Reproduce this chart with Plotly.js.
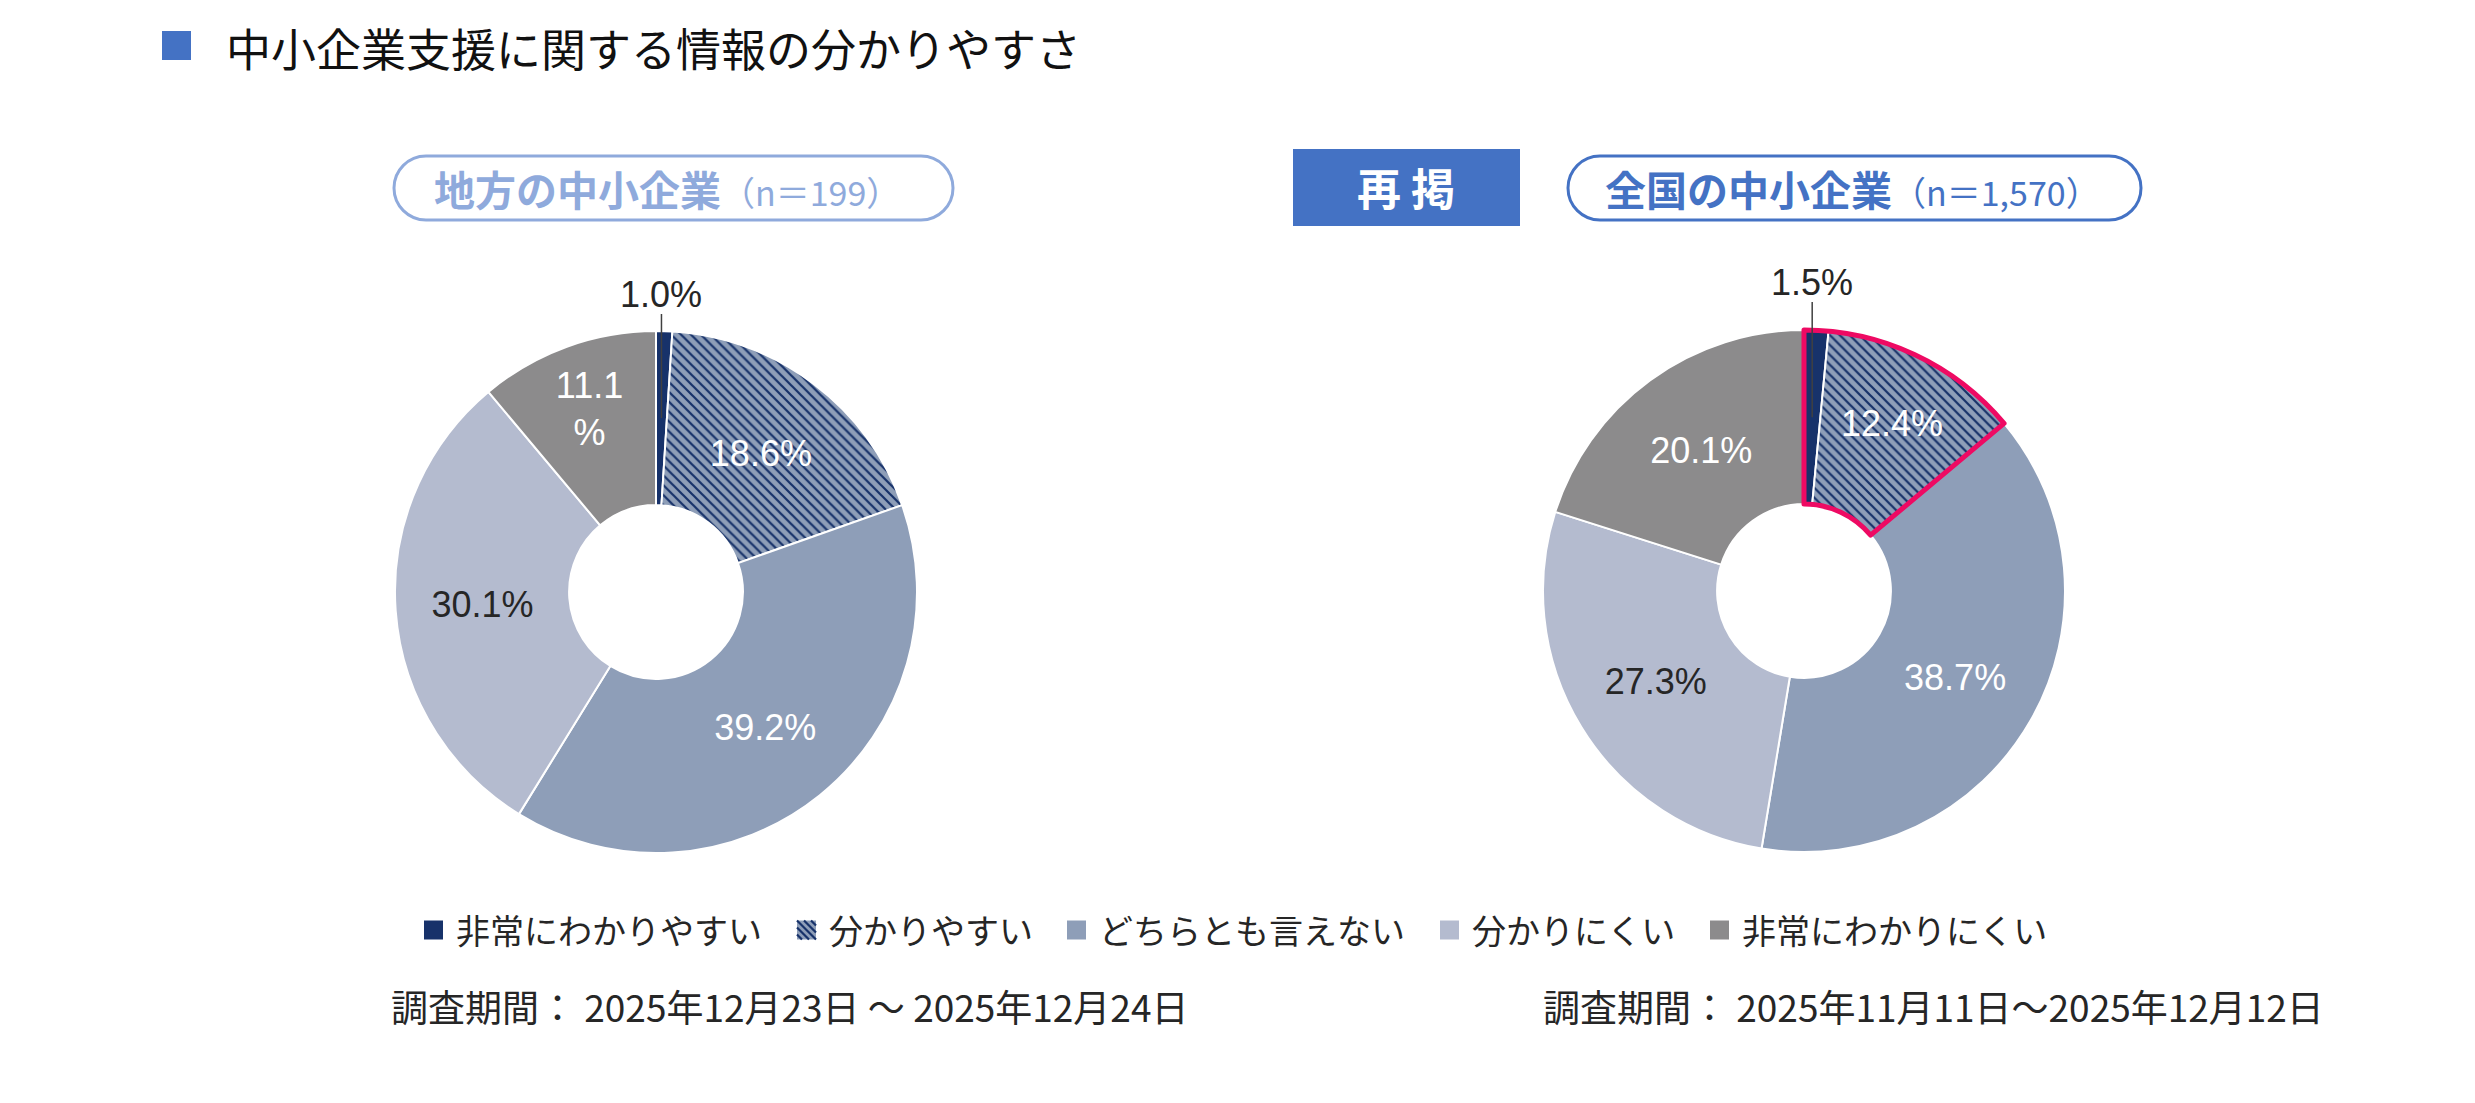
<!DOCTYPE html>
<html><head><meta charset="utf-8">
<script src="https://cdn.plot.ly/plotly-3.0.1.min.js"></script>
<style>html,body{margin:0;padding:0;background:#fff}#chart{width:2475px;height:1103px}</style>
</head><body><div id="chart"></div>
<script>
// ---- data ----
const categories = ["非常にわかりやすい", "分かりやすい", "どちらとも言えない", "分かりにくい", "非常にわかりにくい"];
const localValues = [1.0, 18.6, 39.2, 30.1, 11.1];
const nationalValues = [1.5, 12.4, 38.7, 27.3, 20.1];
const localLabels = ["1.0%", "18.6%", "39.2%", "30.1%", "11.1<br>%"];
const nationalLabels = ["1.5%", "12.4%", "38.7%", "27.3%", "20.1%"];
const highlightCount = 2;
const chartTitle = "中小企業支援に関する情報の分かりやすさ";
const localHeader = "地方の中小企業";
const localN = "（n＝199）";
const nationalHeader = "全国の中小企業";
const nationalN = "（n＝1,570）";
const repostLabel = "再 掲";
const localPeriod = "調査期間： 2025年12月23日 ～ 2025年12月24日";
const nationalPeriod = "調査期間： 2025年11月11日～2025年12月12日";

// ---- style ----
const W = 2475, H = 1103;
const px = x => x / W;
const py = y => 1 - y / H;
const NAVY = "#17326A";
const sliceColors = [NAVY, "#8E9EB8", "#8E9EB8", "#B4BBCF", "#8C8B8C"];
const patternShapes = ["", "\\", "", "", ""];
const textColors = ["#262626", "#ffffff", "#ffffff", "#262626", "#ffffff"];
const R = 261, HOLE = 0.333;
const leftC = [656, 592], rightC = [1804, 591];
const CJK = "Noto Sans CJK JP, Noto Sans, sans-serif";
const LAT = "Liberation Sans, Arial, sans-serif";
const legendX = [424, 797, 1067, 1440, 1710];
const legendY = 930, legendSq = 19;

function domainFor(c) {
  return { x: [px(c[0] - R), px(c[0] + R)], y: [py(c[1] + R), py(c[1] - R)] };
}
function pieTrace(values, labels, c) {
  return {
    type: "pie", labels: categories, values: values, text: labels,
    textinfo: "text", texttemplate: "%{text}",
    textposition: values.map((v, i) => i === 0 ? "none" : "inside"),
    insidetextorientation: "horizontal",
    insidetextfont: { family: LAT, size: 36, color: textColors },
    sort: false, direction: "clockwise", rotation: 0, hole: HOLE,
    domain: domainFor(c),
    marker: {
      colors: sliceColors,
      line: { color: "#ffffff", width: 2 },
      pattern: { shape: patternShapes, fgcolor: NAVY, bgcolor: "#8E9EB8", size: 7, solidity: 0.32, fillmode: "replace" }
    },
    showlegend: false, hoverinfo: "skip"
  };
}
const sum = a => a.reduce((s, v) => s + v, 0);
const hlVal = sum(nationalValues.slice(0, highlightCount));
const highlight = {
  type: "pie", labels: ["hl", "rest"], values: [hlVal, sum(nationalValues) - hlVal],
  textinfo: "none", sort: false, direction: "clockwise", rotation: 0, hole: HOLE,
  domain: domainFor(rightC),
  marker: { colors: ["rgba(0,0,0,0)", "rgba(0,0,0,0)"], line: { color: ["#EE0A63", "rgba(0,0,0,0)"], width: [5, 0] } },
  showlegend: false, hoverinfo: "skip"
};

function roundedRect(x0, y0, x1, y1, r) {
  const k = 0.5523 * r;
  const P = (x, y) => px(x) + "," + py(y);
  return "M" + P(x0 + r, y0) + " L" + P(x1 - r, y0) +
    " C" + P(x1 - r + k, y0) + " " + P(x1, y0 + r - k) + " " + P(x1, y0 + r) +
    " L" + P(x1, y1 - r) +
    " C" + P(x1, y1 - r + k) + " " + P(x1 - r + k, y1) + " " + P(x1 - r, y1) +
    " L" + P(x0 + r, y1) +
    " C" + P(x0 + r - k, y1) + " " + P(x0, y1 - r + k) + " " + P(x0, y1 - r) +
    " L" + P(x0, y0 + r) +
    " C" + P(x0, y0 + r - k) + " " + P(x0 + r - k, y0) + " " + P(x0 + r, y0) + " Z";
}

// small-slice outside label with leader line, derived from data
function smallLabel(values, labels, c, labelOffset) {
  const a = 2 * Math.PI * (values[0] / 2) / sum(values);
  const rmid = R * (1 + HOLE) / 2;
  const xm = c[0] + Math.sin(a) * rmid, ym = c[1] - Math.cos(a) * rmid;
  const ly = c[1] - R - labelOffset;
  return {
    shape: { type: "line", xref: "paper", yref: "paper", x0: px(xm), x1: px(xm), y0: py(ly + 19), y1: py(ym), line: { color: "#404040", width: 1.5 } },
    ann: { xref: "paper", yref: "paper", x: px(xm), y: py(ly), xanchor: "center", yanchor: "middle", showarrow: false, text: labels[0], font: { family: LAT, size: 36, color: "#262626" } }
  };
}
const sl = smallLabel(localValues, localLabels, leftC, 36);
const sr = smallLabel(nationalValues, nationalLabels, rightC, 47);

const shapes = [
  { type: "rect", xref: "paper", yref: "paper", x0: px(162), x1: px(191), y0: py(60), y1: py(31), fillcolor: "#4472C4", line: { width: 0 } },
  { type: "path", xref: "paper", yref: "paper", path: roundedRect(394, 156, 953, 220, 32), line: { color: "#8FAADC", width: 3 }, fillcolor: "rgba(0,0,0,0)" },
  { type: "path", xref: "paper", yref: "paper", path: roundedRect(1568, 156, 2141, 220, 32), line: { color: "#4472C4", width: 3 }, fillcolor: "rgba(0,0,0,0)" },
  { type: "rect", xref: "paper", yref: "paper", x0: px(1293), x1: px(1520), y0: py(226), y1: py(149), fillcolor: "#4472C4", line: { width: 0 } },
  sl.shape, sr.shape
];

const ann = (x, y, text, font, xanchor) => ({ xref: "paper", yref: "paper", x: px(x), y: py(y), xanchor: xanchor || "left", yanchor: "middle", showarrow: false, text: text, font: font });
const annotations = [
  ann(224, 47, chartTitle, { family: CJK, size: 45, color: "#111111" }),
  ann(667, 188, "<b>" + localHeader + "</b><span style='font-size:34px;font-weight:normal'>" + localN + "</span>", { family: CJK, size: 41, color: "#8FAADC" }, "center"),
  ann(1852, 188, "<b>" + nationalHeader + "</b><span style='font-size:34px;font-weight:normal'>" + nationalN + "</span>", { family: CJK, size: 41, color: "#4472C4" }, "center"),
  ann(1406, 187, "<b>" + repostLabel + "</b>", { family: CJK, size: 44, color: "#ffffff" }, "center"),
  ann(389, 1006, localPeriod, { family: CJK, size: 37, color: "#262626" }),
  ann(1541, 1006, nationalPeriod, { family: CJK, size: 37, color: "#262626" }),
  sl.ann, sr.ann
];

// custom legend built from categories / colours
categories.forEach((cat, i) => {
  const x0 = legendX[i], y0 = legendY - legendSq / 2, s = legendSq;
  shapes.push({ type: "rect", xref: "paper", yref: "paper", x0: px(x0), x1: px(x0 + s), y0: py(y0 + s), y1: py(y0), fillcolor: sliceColors[i], line: { width: 0 } });
  if (patternShapes[i] === "\\") {
    let d = "";
    for (let c = -14; c <= 14; c += 7) {
      const sx = Math.max(0, c), sy = Math.max(0, -c), ex = Math.min(s, s + c), ey = Math.min(s, s - c);
      d += "M" + px(x0 + sx) + "," + py(y0 + sy) + " L" + px(x0 + ex) + "," + py(y0 + ey) + " ";
    }
    shapes.push({ type: "path", xref: "paper", yref: "paper", path: d, line: { color: NAVY, width: 2.2 } });
  }
  annotations.push(ann(x0 + s + 11, legendY - 1, cat, { family: CJK, size: 34, color: "#262626" }));
});

const layout = {
  width: W, height: H, margin: { l: 0, r: 0, t: 0, b: 0 },
  paper_bgcolor: "#ffffff", plot_bgcolor: "#ffffff",
  showlegend: false,
  shapes: shapes, annotations: annotations
};
Plotly.newPlot("chart", [pieTrace(localValues, localLabels, leftC), pieTrace(nationalValues, nationalLabels, rightC), highlight], layout, { staticPlot: true });
</script></body></html>
